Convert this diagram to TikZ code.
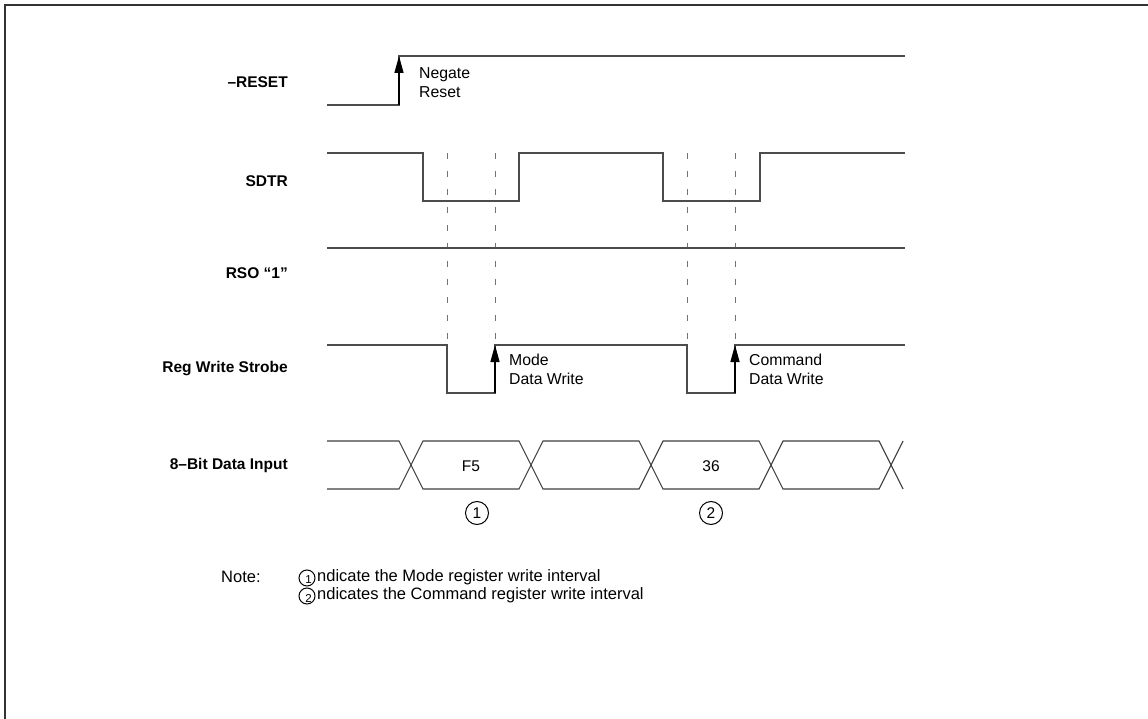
\documentclass[tikz,border=0pt]{standalone}
\usepackage{fontspec}
\setmainfont{Liberation Sans}
\usetikzlibrary{arrows.meta}
\begin{document}
\begin{tikzpicture}[x=1pt,y=-1pt,
  sig/.style={draw=black!70, line width=1.4pt, line join=miter},
  bus/.style={draw=black!75, line width=1.1pt},
  guide/.style={draw=black!55, line width=1pt, dash pattern=on 6pt off 12pt},
  edgearrow/.style={-{Triangle[length=17pt,width=9pt]}, black, line width=1.4pt},
  lbl/.style={font=\fontsize{15.5}{18}\selectfont\bfseries, anchor=east, inner sep=0pt},
  txt/.style={font=\fontsize{15.8}{19}\selectfont, anchor=north west, align=left, inner sep=0pt},
  notetxt/.style={font=\fontsize{16.5}{19}\selectfont, anchor=west, inner sep=0pt},
  val/.style={font=\fontsize{15.5}{18}\selectfont, inner sep=0pt},
  num/.style={circle, draw=black, line width=1pt, minimum size=23pt, inner sep=0pt, font=\fontsize{15.5}{18}\selectfont},
  smallnum/.style={circle, draw=black, line width=1pt, minimum size=16pt, inner sep=0pt},
  smalldigit/.style={font=\fontsize{11.5}{12}\selectfont, inner sep=0pt},
  frame/.style={draw=black!80, line width=1.6pt}
]
\useasboundingbox (0,0) rectangle (1148,719);
\fill[white] (0,0) rectangle (1148,719);
% frame (top and left edges)
\draw[frame] (5,719) -- (5,5) -- (1148,5);

% signal names
\node[lbl] (nreset) at (288,82) {\textendash RESET};
\node[lbl] (nsdtr) at (288,181) {SDTR};
\node[lbl] (nrso) at (288,273) {RSO \textquotedblleft 1\textquotedblright};
\node[lbl] (nstrobe) at (288,369) {Reg Write Strobe};
\node[lbl] (ndata) at (288,465) {8\textendash Bit Data Input};

% guide lines
\foreach \gx in {447,495,687,735}
  \draw[guide] (\gx,153) -- (\gx,345);

% -RESET
\draw[sig] (327,105) -- (399,105) -- (399,56) -- (905,56);
\draw[edgearrow] (399,105) -- (399,56);
\node[txt] (tnegate) at (419,67) {Negate\\Reset};

% SDTR
\draw[sig] (327,153) -- (423,153) -- (423,201) -- (519,201) -- (519,153)
  -- (663,153) -- (663,201) -- (760,201) -- (760,153) -- (905,153);

% RSO "1"
\draw[sig] (327,248) -- (905,248);

% Reg Write Strobe
\draw[sig] (327,345) -- (447,345) -- (447,393) -- (495,393) -- (495,345)
  -- (687,345) -- (687,393) -- (735,393) -- (735,345) -- (905,345);
\draw[edgearrow] (495,393) -- (495,345);
\draw[edgearrow] (735,393) -- (735,345);
\node[txt] (tmode) at (509,354) {Mode\\Data Write};
\node[txt] (tcmd) at (749,354) {Command\\Data Write};

% 8-Bit Data Input
\draw[bus] (327,441) -- (399,441) -- (411,465) -- (399,489) -- (327,489);
\foreach \a/\b in {411/531,531/651,651/771,771/891}
  \draw[bus] (\a,465) -- (\a+12,441) -- (\b-12,441) -- (\b,465) -- (\b-12,489) -- (\a+12,489) -- cycle;
\draw[bus] (891,465) -- (903,441);
\draw[bus] (891,465) -- (903,489);
\node[val] (vf5) at (471,466) {F5};
\node[val] (v36) at (711,466) {36};
\node[num] (c1) at (477,513) {1};
\node[num] (c2) at (711,513) {2};

% note
\node[notetxt] (note) at (221,577) {Note:};
\node[smallnum] (s1) at (307,578) {};
\node[smalldigit] (d1) at (308.5,580) {1};
\node[smallnum] (s2) at (307,596) {};
\node[smalldigit] (d2) at (308.5,598) {2};
\node[notetxt] (n1) at (317,577) {ndicate the Mode register write interval};
\node[notetxt] (n2) at (317,595) {ndicates the Command register write interval};
\end{tikzpicture}
\end{document}
